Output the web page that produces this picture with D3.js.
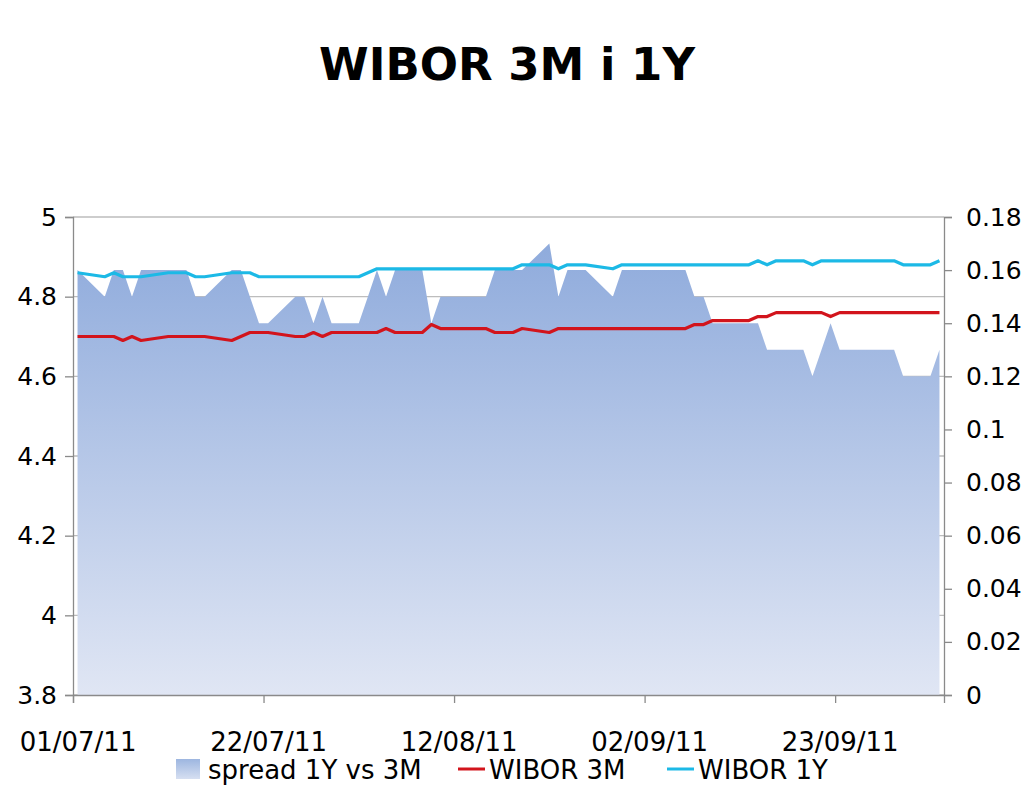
<!DOCTYPE html>
<html>
<head>
<meta charset="utf-8">
<script src="https://cdn.jsdelivr.net/npm/d3@7"></script>
<style>
  body { margin: 0; background: #fff; }
  svg { display: block; font-family: "DejaVu Sans", Verdana, sans-serif; }
</style>
</head>
<body>
<div class="graph"></div>
<script>
// business days shown on the chart (dd/mm/yy)
const days = [
  "01/07/11", "04/07/11", "05/07/11", "06/07/11", "07/07/11", "08/07/11",
  "11/07/11", "12/07/11", "13/07/11", "14/07/11", "15/07/11",
  "18/07/11", "19/07/11", "20/07/11", "21/07/11", "22/07/11",
  "25/07/11", "26/07/11", "27/07/11", "28/07/11", "29/07/11",
  "01/08/11", "02/08/11", "03/08/11", "04/08/11", "05/08/11",
  "08/08/11", "09/08/11", "10/08/11", "11/08/11", "12/08/11",
  "15/08/11", "16/08/11", "17/08/11", "18/08/11", "19/08/11",
  "22/08/11", "23/08/11", "24/08/11", "25/08/11", "26/08/11",
  "29/08/11", "30/08/11", "31/08/11", "01/09/11", "02/09/11",
  "05/09/11", "06/09/11", "07/09/11", "08/09/11", "09/09/11",
  "12/09/11", "13/09/11", "14/09/11", "15/09/11", "16/09/11",
  "19/09/11", "20/09/11", "21/09/11", "22/09/11", "23/09/11",
  "26/09/11", "27/09/11", "28/09/11", "29/09/11", "30/09/11",
  "03/10/11", "04/10/11",
];

const wibor3m = [
  4.70, 4.70, 4.70, 4.69, 4.70, 4.69,
  4.70, 4.70, 4.70, 4.70, 4.70,
  4.69, 4.70, 4.71, 4.71, 4.71,
  4.70, 4.70, 4.71, 4.70, 4.71,
  4.71, 4.71, 4.71, 4.72, 4.71,
  4.71, 4.73, 4.72, 4.72, 4.72,
  4.72, 4.71, 4.71, 4.71, 4.72,
  4.71, 4.72, 4.72, 4.72, 4.72,
  4.72, 4.72, 4.72, 4.72, 4.72,
  4.72, 4.72, 4.73, 4.73, 4.74,
  4.74, 4.74, 4.75, 4.75, 4.76,
  4.76, 4.76, 4.76, 4.75, 4.76,
  4.76, 4.76, 4.76, 4.76, 4.76,
  4.76, 4.76,
];

const wibor1y = [
  4.86, 4.85, 4.86, 4.85, 4.85, 4.85,
  4.86, 4.86, 4.86, 4.85, 4.85,
  4.86, 4.86, 4.86, 4.85, 4.85,
  4.85, 4.85, 4.85, 4.85, 4.85,
  4.85, 4.86, 4.87, 4.87, 4.87,
  4.87, 4.87, 4.87, 4.87, 4.87,
  4.87, 4.87, 4.87, 4.87, 4.88,
  4.88, 4.87, 4.88, 4.88, 4.88,
  4.87, 4.88, 4.88, 4.88, 4.88,
  4.88, 4.88, 4.88, 4.88, 4.88,
  4.88, 4.88, 4.89, 4.88, 4.89,
  4.89, 4.88, 4.89, 4.89, 4.89,
  4.89, 4.89, 4.89, 4.89, 4.88,
  4.88, 4.89,
];

const spread = [
  0.16, 0.15, 0.16, 0.16, 0.15, 0.16,
  0.16, 0.16, 0.16, 0.15, 0.15,
  0.16, 0.16, 0.15, 0.14, 0.14,
  0.15, 0.15, 0.14, 0.15, 0.14,
  0.14, 0.15, 0.16, 0.15, 0.16,
  0.16, 0.14, 0.15, 0.15, 0.15,
  0.15, 0.16, 0.16, 0.16, 0.16,
  0.17, 0.15, 0.16, 0.16, 0.16,
  0.15, 0.16, 0.16, 0.16, 0.16,
  0.16, 0.16, 0.15, 0.15, 0.14,
  0.14, 0.14, 0.14, 0.13, 0.13,
  0.13, 0.12, 0.13, 0.14, 0.13,
  0.13, 0.13, 0.13, 0.13, 0.12,
  0.12, 0.13,
];

const xTickLabels = ["01/07/11", "22/07/11", "12/08/11", "02/09/11", "23/09/11"];
const xDomain = ["01/07/11", "05/10/11"];
const leftDomain = [3.8, 5];
const rightDomain = [0, 0.18];

const seriesNames = ["spread 1Y vs 3M", "WIBOR 3M", "WIBOR 1Y"];
const colors = { red: "#d2141c", cyan: "#1cb9e6", areaTop: "#8fabdc", areaBottom: "#e0e6f4" };

const width = 1024;
const height = 791;
const plot = { left: 73, right: 944, top: 217, bottom: 695 };

const parse = d3.timeParse("%d/%m/%y");
const fmt = d3.timeFormat("%d/%m/%y");
const midDay = (d) => d3.timeHour.offset(d, 12);

// each point sits in the middle of its day slot
const data = days.map((d, i) => ({
  date: midDay(parse(d)),
  m3: wibor3m[i],
  y1: wibor1y[i],
  spread: spread[i],
}));

const x = d3.scaleTime().domain(xDomain.map(parse)).range([plot.left, plot.right]);
const yL = d3.scaleLinear().domain(leftDomain).range([plot.bottom, plot.top]);
const yR = d3.scaleLinear().domain(rightDomain).range([plot.bottom, plot.top]);

const svg = d3
  .select(".graph")
  .append("svg")
  .attr("width", width)
  .attr("height", height)
  .attr("viewBox", [0, 0, width, height]);

svg.append("rect").attr("width", width).attr("height", height).attr("fill", "#fff");

// title
svg
  .append("text")
  .attr("x", 507)
  .attr("y", 80)
  .attr("text-anchor", "middle")
  .attr("font-size", 45)
  .attr("font-weight", "bold")
  .text("WIBOR 3M i 1Y");

const defs = svg.append("defs");
const grad = defs
  .append("linearGradient")
  .attr("id", "areaGrad")
  .attr("gradientUnits", "userSpaceOnUse")
  .attr("x1", 0)
  .attr("x2", 0)
  .attr("y1", yR(d3.max(spread)))
  .attr("y2", yR(0));
grad.append("stop").attr("offset", "0%").attr("stop-color", colors.areaTop);
grad.append("stop").attr("offset", "100%").attr("stop-color", colors.areaBottom);

const legGrad = defs
  .append("linearGradient")
  .attr("id", "legGrad")
  .attr("x1", 0)
  .attr("x2", 0)
  .attr("y1", 0)
  .attr("y2", 1);
legGrad.append("stop").attr("offset", "0%").attr("stop-color", "#9db6e0");
legGrad.append("stop").attr("offset", "100%").attr("stop-color", "#d6dff1");

// gridlines
svg
  .append("g")
  .selectAll()
  .data(yL.ticks(6))
  .join("line")
  .attr("x1", plot.left)
  .attr("x2", plot.right)
  .attr("y1", (d) => yL(d))
  .attr("y2", (d) => yL(d))
  .attr("stroke", "#bdbdbd")
  .attr("stroke-width", 1.3);

// spread area on the right axis
svg
  .append("path")
  .datum(data)
  .attr("fill", "url(#areaGrad)")
  .attr(
    "d",
    d3
      .area()
      .x((d) => x(d.date))
      .y0(yR(0))
      .y1((d) => yR(d.spread)),
  );

const lineFor = (key) =>
  d3
    .line()
    .x((d) => x(d.date))
    .y((d) => yL(d[key]));

svg
  .append("path")
  .datum(data)
  .attr("fill", "none")
  .attr("stroke", colors.red)
  .attr("stroke-width", 3.2)
  .attr("stroke-linejoin", "round")
  .attr("d", lineFor("m3"));

svg
  .append("path")
  .datum(data)
  .attr("fill", "none")
  .attr("stroke", colors.cyan)
  .attr("stroke-width", 3.2)
  .attr("stroke-linejoin", "round")
  .attr("d", lineFor("y1"));

const styleAxis = (g, size) => {
  g.select(".domain").attr("stroke", "#8a8a8a").attr("stroke-width", 1.3);
  g.selectAll(".tick line").attr("stroke", "#8a8a8a").attr("stroke-width", 1.3);
  g.selectAll(".tick text")
    .attr("fill", "#000")
    .attr("font-size", size)
    .attr("font-family", "DejaVu Sans, Verdana, sans-serif");
};

// left axis
svg
  .append("g")
  .attr("transform", `translate(${plot.left},0)`)
  .call(
    d3
      .axisLeft(yL)
      .ticks(6)
      .tickSizeOuter(0)
      .tickSize(8)
      .tickPadding(8)
      .tickFormat(d3.format("~g")),
  )
  .call((g) => styleAxis(g, 25));

// right axis
svg
  .append("g")
  .attr("transform", `translate(${plot.right},0)`)
  .call(
    d3
      .axisRight(yR)
      .ticks(9)
      .tickSizeOuter(0)
      .tickSize(8)
      .tickPadding(14)
      .tickFormat(d3.format("~g")),
  )
  .call((g) => styleAxis(g, 25));

// bottom axis, labels centred on the day slot like the original
const labelShift = x(midDay(parse(xTickLabels[0]))) - x(parse(xTickLabels[0]));
svg
  .append("g")
  .attr("transform", `translate(0,${plot.bottom})`)
  .call(
    d3
      .axisBottom(x)
      .tickValues(xTickLabels.map(parse))
      .tickSizeOuter(0)
      .tickSize(8)
      .tickFormat(fmt),
  )
  .call((g) => styleAxis(g, 26))
  .call((g) => g.selectAll(".tick text").attr("x", labelShift).attr("y", 56).attr("dy", null));

// legend
const legend = svg.append("g").attr("font-size", 26);
legend
  .append("rect")
  .attr("x", 176)
  .attr("y", 759)
  .attr("width", 24)
  .attr("height", 20)
  .attr("fill", "url(#legGrad)");
legend.append("text").attr("x", 208).attr("y", 779).text(seriesNames[0]);

legend
  .append("line")
  .attr("x1", 458)
  .attr("x2", 485)
  .attr("y1", 769)
  .attr("y2", 769)
  .attr("stroke", colors.red)
  .attr("stroke-width", 3);
legend.append("text").attr("x", 489).attr("y", 779).text(seriesNames[1]);

legend
  .append("line")
  .attr("x1", 667)
  .attr("x2", 694)
  .attr("y1", 769)
  .attr("y2", 769)
  .attr("stroke", colors.cyan)
  .attr("stroke-width", 3);
legend.append("text").attr("x", 698).attr("y", 779).text(seriesNames[2]);
</script>
</body>
</html>
